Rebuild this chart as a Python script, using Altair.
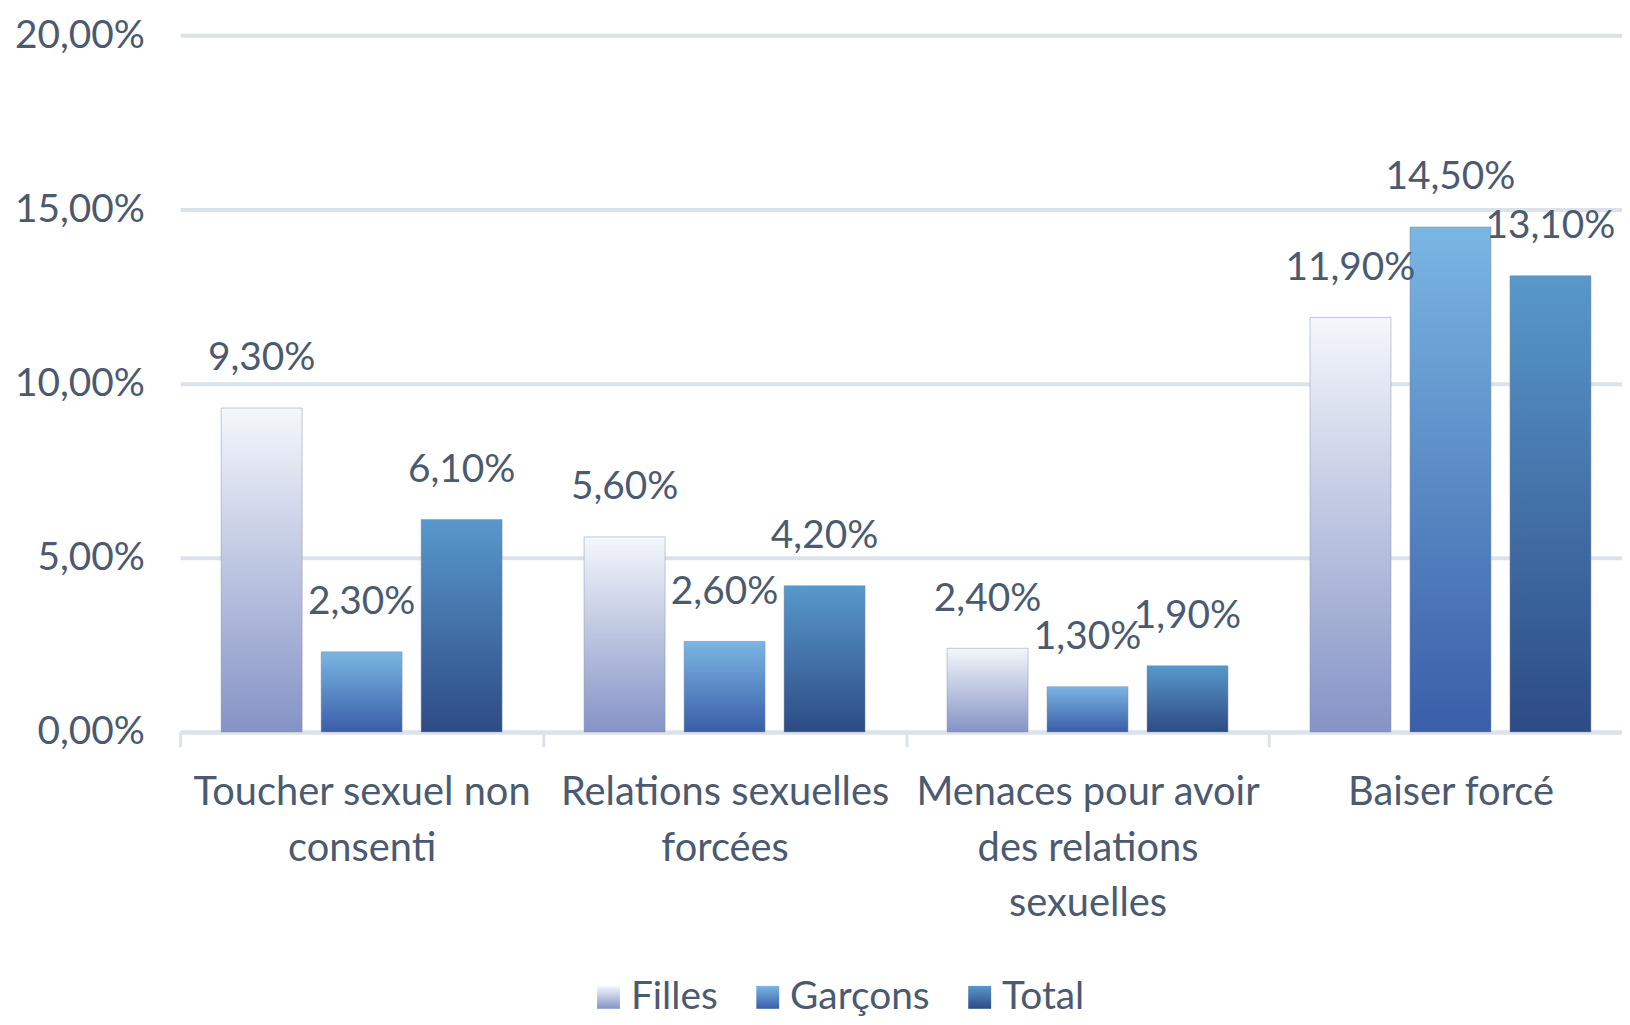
import altair as alt
import pandas as pd

categories = ["Toucher sexuel non consenti", "Relations sexuelles forcées",
              "Menaces pour avoir des relations sexuelles", "Baiser forcé"]
category_lines = ["Toucher sexuel non|consenti", "Relations sexuelles|forcées",
                  "Menaces pour avoir|des relations|sexuelles", "Baiser forcé"]
series = ["Filles", "Garçons", "Total"]
filles = [0.093, 0.056, 0.024, 0.119]
garcons = [0.023, 0.026, 0.013, 0.145]
total = [0.061, 0.042, 0.019, 0.131]

rows = []
for i, c in enumerate(category_lines):
    for s, vals in zip(series, [filles, garcons, total]):
        rows.append({"cat": c, "series": s, "value": vals[i]})
df = pd.DataFrame(rows)

TEXT = "#4B5A70"
GRID = "#DCE2EA"
FONT = "Lato"

def grad(top, bottom):
    return {"expr": "{gradient:'linear',x1:0,y1:0,x2:0,y2:1,stops:[{offset:0,color:'%s'},{offset:1,color:'%s'}]}" % (top, bottom)}

color_range = [grad("#F4F7FB", "#8593C6"), grad("#7AB6E3", "#3A5EA8"), grad("#5898CB", "#2D4B85")]

base = alt.Chart(df).encode(
    x=alt.X("cat:N", sort=category_lines,
            scale=alt.Scale(paddingInner=0, paddingOuter=0, range=[0, 1459]),
            axis=alt.Axis(title=None, labelAngle=0, labelExpr="split(datum.label, '|')",
                          labelFont=FONT, labelFontSize=40, labelColor=TEXT, labelLimit=0,
                          labelLineHeight=56, labelPadding=26, labelBaseline="top",
                          domainColor=GRID, domainWidth=4, tickColor=GRID, tickWidth=3,
                          tickSize=15, tickBand="extent", grid=False)),
    xOffset=alt.XOffset("series:N", sort=series,
                        scale=alt.Scale(paddingInner=0.19, paddingOuter=0.41)),
    y=alt.Y("value:Q", scale=alt.Scale(domain=[0, 0.2]),
            axis=alt.Axis(title=None, values=[0, 0.05, 0.1, 0.15, 0.2],
                          labelExpr="replace(format(datum.value, '.2%'), '.', ',')",
                          labelFont=FONT, labelFontSize=39, labelColor=TEXT,
                          labelPadding=36, domain=False, ticks=False,
                          gridColor=GRID, gridWidth=4)),
)

bars = base.mark_bar(stroke="#7F8BA3", strokeWidth=1, strokeOpacity=0.45).encode(
    color=alt.Color("series:N", sort=series,
                    scale=alt.Scale(domain=series, range=color_range),
                    legend=alt.Legend(title=None, orient="none", direction="horizontal",
                                      legendX=411, legendY=947,
                                      symbolType="square", symbolSize=529,
                                      symbolStrokeWidth=0, labelFont=FONT,
                                      labelFontSize=39, labelColor=TEXT,
                                      columnPadding=30, labelOffset=3))
)

labels = base.transform_calculate(
    lab="replace(format(datum.value, '.2%'), '.', ',')"
).mark_text(font=FONT, fontSize=39, color=TEXT, baseline="middle", dy=-50).encode(
    text="lab:N"
)

chart = (bars + labels).properties(
    width=1449, height=700,
    autosize=alt.AutoSizeParams(type="none"),
    padding={"left": 173, "top": 25, "right": 0, "bottom": 284}
).configure_view(stroke=None)

chart.save("out.html", embed_options={"renderer": "svg", "actions": False})
